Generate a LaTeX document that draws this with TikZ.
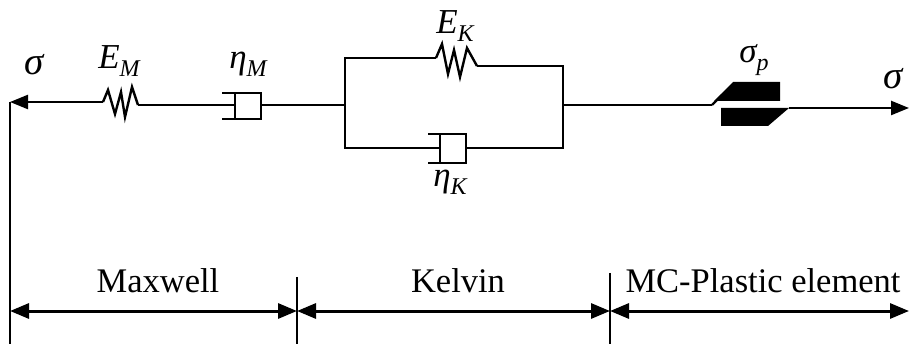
\documentclass[tikz,border=0pt]{standalone}
\usepackage{fontspec}
\setmainfont{Liberation Serif}
\usetikzlibrary{arrows.meta}
\tikzset{
  wire/.style={line width=2.4pt, line join=miter},
  thinwire/.style={line width=1.6pt},
  dimarrow/.style={line width=3pt, {Triangle[length=19pt,width=15pt]}-{Triangle[length=19pt,width=15pt]}},
  forcearrow/.style={line width=2.4pt, -{Triangle[length=18pt,width=14pt]}},
  txt/.style={inner sep=0pt, font=\fontsize{34.5}{35}\selectfont},
  sym/.style={inner sep=0pt, font=\fontsize{35}{35}\selectfont\itshape},
  bigsym/.style={inner sep=0pt, font=\fontsize{39}{39}\selectfont\itshape}
}
\newcommand{\symsub}[2]{#1\raisebox{-0.22em}{\fontsize{24}{24}\selectfont #2}}
\begin{document}
\begin{tikzpicture}[x=1pt,y=-1pt]
  \useasboundingbox (0,0) rectangle (909,344);
  % points on the rod
  \coordinate (fl) at (10,102);
  \coordinate (fb) at (10,344);
  \coordinate (sma) at (103,102);
  \coordinate (smb) at (138,105);
  \coordinate (dm) at (235,105);
  \coordinate (dmr) at (261,105);
  \coordinate (kl) at (345,105);
  \coordinate (kr) at (563,105);
  \coordinate (ktl) at (345,58);
  \coordinate (ktr) at (563,66);
  \coordinate (kbl) at (345,148);
  \coordinate (kbr) at (563,148);
  \coordinate (ska) at (436,58);
  \coordinate (skb) at (477,66);
  \coordinate (dk) at (440,148);
  \coordinate (dkr) at (466,148);
  \coordinate (pl) at (712,105);
  \coordinate (pr) at (789,108);
  \coordinate (fr) at (909,108);
  % Maxwell
  \draw[forcearrow] (sma) -- (fl);
  \draw[thinwire] (fl) -- (fb);
  \draw[wire] (sma) -- (108,90) -- (115,114) -- (121,92) -- (125,117) -- (132,87) -- (smb);
  \draw[wire] (smb) -- (dm);
  \draw[wire] (222,93) -- (261,93) -- (261,119) -- (222,119);
  \draw[wire] (235,93) -- (235,119);
  \draw[wire] (dmr) -- (kl);
  % Kelvin
  \draw[wire] (ska) -- (ktl) -- (kbl) -- (dk);
  \draw[wire] (ska) -- (442,44) -- (448,74) -- (454,50) -- (460,77) -- (467,48) -- (skb);
  \draw[wire] (skb) -- (ktr) -- (kbr) -- (dkr);
  \draw[wire] (428,134) -- (466,134) -- (466,163) -- (428,163);
  \draw[wire] (dk |- 0,134) -- (dk |- 0,163);
  \draw[wire] (kr) -- (pl);
  % slider
  \draw[wire] (pl) -- (722,95);
  \fill (733,82) -- (780,82) -- (780,101) -- (714,101) -- cycle;
  \fill (721,108) -- (pr) -- (768,126) -- (721,126) -- cycle;
  \draw[forcearrow] (pr) -- (fr);
  % dimension lines
  \coordinate (t1) at (297,277);
  \coordinate (t2) at (610,273);
  \coordinate (b1) at (297,344);
  \coordinate (b2) at (610,344);
  \draw[thinwire] (t1) -- (b1);
  \draw[thinwire] (t2) -- (b2);
  \coordinate (a0) at (10,311);
  \coordinate (a1) at (297,311);
  \coordinate (a2) at (610,311);
  \coordinate (a3) at (909,311);
  \draw[dimarrow] (a0) -- (a1);
  \draw[dimarrow] (a1) -- (a2);
  \draw[dimarrow] (a2) -- (a3);
  % labels
  \node[bigsym] (sigl) at (34,65) {σ};
  \node[sym] (em) at (119,61) {\symsub{E}{M}};
  \node[sym] (etam) at (248,64) {\symsub{η}{M}};
  \node[sym] (ek) at (455,26) {\symsub{E}{K}};
  \node[sym] (etak) at (450,182) {\symsub{η}{K}};
  \node[sym] (sigp) at (754,60) {\symsub{σ}{p}};
  \node[bigsym] (sigr) at (893,79) {σ};
  \node[txt] (maxw) at (158,281) {Maxwell};
  \node[txt] (kelv) at (458,281) {Kelvin};
  \node[txt] (mcpl) at (763,281) {MC-Plastic element};
\end{tikzpicture}
\end{document}
